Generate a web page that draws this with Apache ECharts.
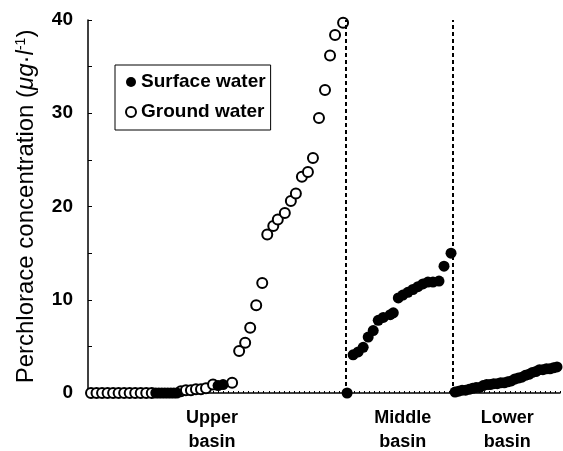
<!DOCTYPE html>
<html>
<head>
<meta charset="utf-8">
<script src="https://cdn.jsdelivr.net/npm/echarts@6/dist/echarts.min.js"></script>
<style>
  html, body { margin: 0; padding: 0; background: #fff; }
  #chart { width: 563px; height: 451px; }
</style>
</head>
<body>
<div id="chart"></div>
<script>
// Sample order along the river (x) and perchlorate concentration in µg/l (y)
const surfaceX = [13.5, 14.1, 14.7, 15.3, 15.9, 16.5, 17.1, 17.7, 25.9, 26.9,
  51.6,
  52.8, 53.8, 54.8, 55.8, 56.8, 57.8, 58.8, 60.2, 60.8, 61.8, 62.7, 63.7, 64.7, 65.7, 66.7, 67.7, 68.7, 69.9, 70.9, 72.3,
  73.1, 73.8, 74.5, 75.2, 75.9, 76.6, 77.3, 78.0, 78.7, 79.4, 80.1, 80.8, 81.5, 82.2, 82.9, 83.6, 84.3, 85.0, 85.7, 86.4,
  87.1, 87.8, 88.5, 89.2, 89.9, 90.6, 91.3, 92.0, 92.7, 93.4];
const surfaceY = [0, 0, 0, 0, 0, 0, 0, 0, 0.8, 0.9,
  0,
  4.1, 4.4, 4.9, 6.0, 6.7, 7.8, 8.1, 8.4, 8.6, 10.2, 10.5, 10.8, 11.1, 11.4, 11.7, 11.9, 11.9, 12.0, 13.6, 15.0,
  0.1, 0.2, 0.3, 0.3, 0.4, 0.5, 0.6, 0.6, 0.8, 0.9, 0.9, 1.0, 1.0, 1.1, 1.1, 1.2, 1.3, 1.5, 1.6, 1.7,
  1.9, 2.0, 2.2, 2.3, 2.5, 2.5, 2.6, 2.6, 2.7, 2.8];

const groundX = [0.6, 1.7, 2.8, 3.9, 5.0, 6.1, 7.2, 8.3, 9.4, 10.5, 11.6, 12.7,
  18.5, 19.5, 20.5, 21.5, 22.5, 23.5, 24.9, 28.7,
  30.1, 31.3, 32.3, 33.5, 34.7, 35.7, 36.9, 37.8, 39.2, 40.4, 41.4, 42.6, 43.8, 44.8,
  46.0, 47.2, 48.2, 49.2, 50.8];
const groundY = [0, 0, 0, 0, 0, 0, 0, 0, 0, 0, 0, 0,
  0.2, 0.3, 0.3, 0.4, 0.4, 0.5, 0.9, 1.1,
  4.5, 5.4, 7.0, 9.4, 11.8, 17.0, 17.9, 18.6, 19.3, 20.6, 21.4, 23.2, 23.7, 25.2,
  29.5, 32.5, 36.2, 38.4, 39.7];

// Basin boundaries and basin names
const basinBounds = [51.4, 72.7];
const basinNames = ['Upper\nbasin', 'Middle\nbasin', 'Lower\nbasin'];
const basinCenters = [24.7, 62.7, 83.5];
const yTicks = [0, 10, 20, 30, 40];

const pair = (xs, ys) => xs.map((x, i) => [x, ys[i]]);
const FONT = "'Liberation Sans', Arial, Helvetica, sans-serif";

const chart = echarts.init(document.getElementById('chart'), null, { renderer: 'canvas' });

chart.setOption({
  animation: false,
  backgroundColor: '#fff',
  grid: { left: 88, right: 3, top: 20, bottom: 58, containLabel: false },
  legend: {
    orient: 'vertical',
    left: 115,
    top: 65,
    padding: [7, 5, 8, 10],
    itemGap: 10,
    itemWidth: 10,
    itemHeight: 10,
    borderColor: '#000',
    borderWidth: 1,
    backgroundColor: '#fff',
    textStyle: { fontFamily: FONT, fontSize: 19, fontWeight: 'bold', color: '#000', lineHeight: 20 },
    data: ['Surface water', 'Ground water']
  },
  xAxis: {
    type: 'value',
    min: 0,
    max: 94,
    interval: 1,
    axisLine: { show: true, lineStyle: { color: '#000', width: 1.5 } },
    axisTick: { show: true, inside: true, length: 2, lineStyle: { color: '#000', width: 1 } },
    axisLabel: { show: false },
    splitLine: { show: false }
  },
  yAxis: {
    type: 'value',
    min: 0,
    max: 40,
    interval: 5,
    name: '{n|Perchlorace concentration (}{i|μg}{n|·}{i|l}{s|-1}{n|)}',
    nameLocation: 'middle',
    nameGap: 50,
    nameRotate: 90,
    nameTextStyle: {
      rich: {
        n: { fontFamily: FONT, fontSize: 24, color: '#000' },
        i: { fontFamily: FONT, fontSize: 24, fontStyle: 'italic', color: '#000' },
        s: { fontFamily: FONT, fontSize: 14, color: '#000', verticalAlign: 'top', padding: [0, 0, 10, 0] }
      }
    },
    axisLine: { show: true, lineStyle: { color: '#000', width: 1.5 } },
    axisTick: { show: true, inside: true, length: 4, lineStyle: { color: '#000' } },
    axisLabel: {
      margin: 15,
      fontFamily: FONT,
      fontSize: 19,
      fontWeight: 'bold',
      color: '#000',
      formatter: v => (yTicks.indexOf(v) >= 0 ? String(v) : '')
    },
    splitLine: { show: false }
  },
  series: [
    {
      name: 'Ground water',
      type: 'scatter',
      symbol: 'circle',
      symbolSize: 10,
      clip: false,
      itemStyle: { color: '#fff', borderColor: '#000', borderWidth: 2, opacity: 1 },
      data: pair(groundX, groundY),
      z: 3
    },
    {
      name: 'Surface water',
      type: 'scatter',
      symbol: 'circle',
      symbolSize: 11,
      clip: false,
      itemStyle: { color: '#000', opacity: 1 },
      data: pair(surfaceX, surfaceY),
      z: 4,
      markLine: {
        silent: true,
        symbol: ['none', 'none'],
        label: { show: false },
        lineStyle: { color: '#000', type: [4, 3], width: 2 },
        data: basinBounds.map(x => ({ xAxis: x }))
      }
    }
  ]
});

// Basin names under the x axis
const yPix = chart.convertToPixel({ gridIndex: 0 }, [0, 0])[1];
chart.setOption({
  graphic: basinNames.map((name, i) => ({
    type: 'text',
    x: chart.convertToPixel({ gridIndex: 0 }, [basinCenters[i], 0])[0],
    y: yPix + 13,
    style: {
      text: name,
      align: 'center',
      verticalAlign: 'top',
      font: "bold 18px 'Liberation Sans', Arial, sans-serif",
      lineHeight: 24,
      fill: '#000'
    }
  }))
});
</script>
</body>
</html>
